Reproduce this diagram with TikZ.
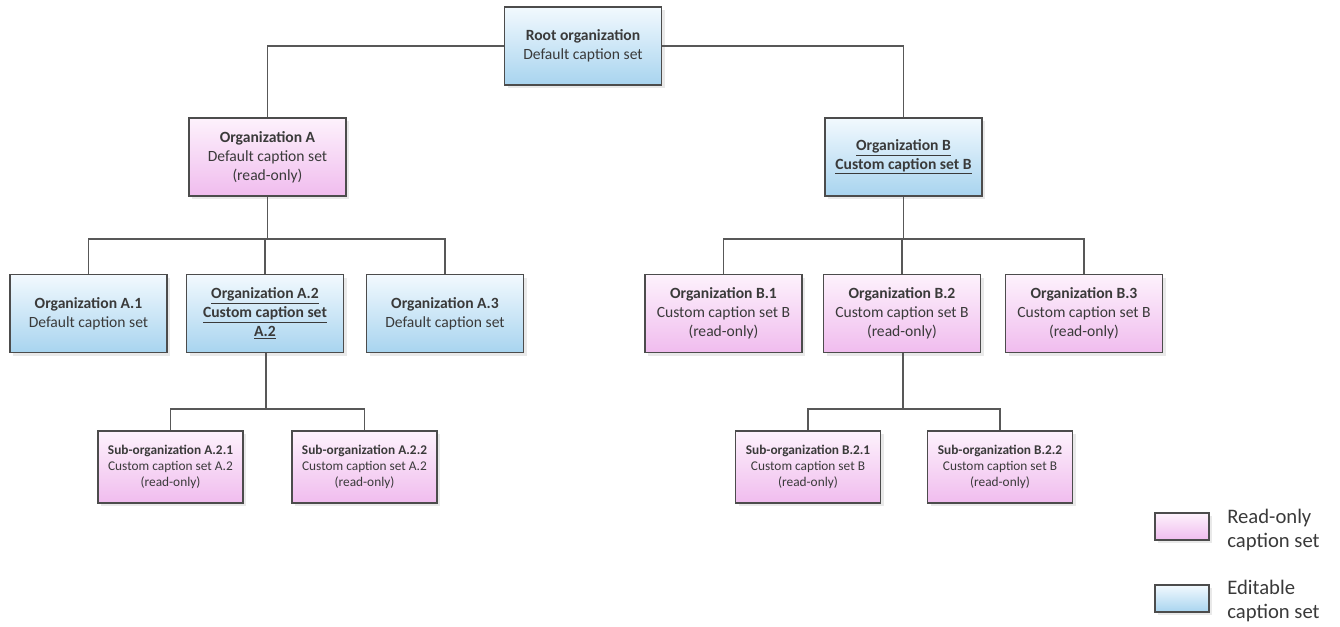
\documentclass[tikz,border=0pt]{standalone}
\usepackage{fontspec}
\setmainfont{Carlito}
\usetikzlibrary{shadows}
\definecolor{orgInk}{HTML}{3A3A3A}
\definecolor{orgLine}{HTML}{585858}
\definecolor{orgBorder}{HTML}{4C4C4C}
\definecolor{orgBlueTop}{HTML}{F2F9FE}
\definecolor{orgBlueBottom}{HTML}{A8D4EF}
\definecolor{orgPinkTop}{HTML}{FDF2FC}
\definecolor{orgPinkBottom}{HTML}{F0BCEE}
\definecolor{orgShadow}{HTML}{D4D4D4}
\tikzset{
  orgEditable/.style={top color=orgBlueTop,bottom color=orgBlueBottom,draw=orgBorder},
  orgReadOnly/.style={top color=orgPinkTop,bottom color=orgPinkBottom,draw=orgBorder},
  orgLink/.style={draw=orgLine,line width=1.4pt}
}

\begin{document}
\begin{tikzpicture}[x=0.75pt,y=-0.75pt,
  box/.style={line width=1.2pt,minimum width=117.75pt,minimum height=58.5pt,
    align=center,inner sep=2pt,text=orgInk,font=\fontsize{11.7}{14.25}\selectfont,
    drop shadow={shadow xshift=2.4pt,shadow yshift=-2.4pt,fill=orgShadow}},
  subbox/.style={box,minimum width=108.75pt,minimum height=54pt,
    font=\fontsize{10}{12}\selectfont},
  legendbox/.style={box,minimum width=40.5pt,minimum height=20.25pt},
  legendtext/.style={align=left,inner sep=0pt,text=orgInk,
    font=\fontsize{15.5}{18}\selectfont}]
\useasboundingbox (0,0) rectangle (1340,626);
\node[box,orgEditable] (root) at (583,46)
  {\textbf{Root organization}\\Default caption set};
\node[box,orgReadOnly] (orgA) at (267.5,157)
  {\textbf{Organization A}\\Default caption set\\(read-only)};
\node[box,orgEditable] (orgB) at (903.5,157)
  {\textbf{\underline{Organization B}}\\\textbf{\underline{Custom caption set B}}};
\node[box,orgEditable] (orgAone) at (88.5,313.5)
  {\textbf{Organization A.1}\\Default caption set};
\node[box,orgEditable] (orgAtwo) at (265,313.5)
  {\textbf{\underline{Organization A.2}}\\\textbf{\underline{Custom caption set}}\\\textbf{\underline{A.2}}};
\node[box,orgEditable] (orgAthree) at (445,313.5)
  {\textbf{Organization A.3}\\Default caption set};
\node[box,orgReadOnly] (orgBone) at (723.5,313.5)
  {\textbf{Organization B.1}\\Custom caption set B\\(read-only)};
\node[box,orgReadOnly] (orgBtwo) at (902,313.5)
  {\textbf{Organization B.2}\\Custom caption set B\\(read-only)};
\node[box,orgReadOnly] (orgBthree) at (1084,313.5)
  {\textbf{Organization B.3}\\Custom caption set B\\(read-only)};
\node[subbox,orgReadOnly] (subAtwoOne) at (170.5,467)
  {\textbf{Sub-organization A.2.1}\\Custom caption set A.2\\(read-only)};
\node[subbox,orgReadOnly] (subAtwoTwo) at (364.5,467)
  {\textbf{Sub-organization A.2.2}\\Custom caption set A.2\\(read-only)};
\node[subbox,orgReadOnly] (subBtwoOne) at (808,467)
  {\textbf{Sub-organization B.2.1}\\Custom caption set B\\(read-only)};
\node[subbox,orgReadOnly] (subBtwoTwo) at (1000,467)
  {\textbf{Sub-organization B.2.2}\\Custom caption set B\\(read-only)};
\coordinate (busA) at (267.5,239);
\coordinate (busB) at (903.5,239);
\coordinate (busAtwo) at (266,409);
\coordinate (busBtwo) at (903,409);
\draw[orgLink] (root.west) -| (orgA.north);
\draw[orgLink] (root.east) -| (orgB.north);
\draw[orgLink] (orgA.south) -- (busA);
\draw[orgLink] (orgAone.north) |- (busA) -| (orgAthree.north);
\draw[orgLink] (orgAtwo.north) -- (orgAtwo.north |- busA);
\draw[orgLink] (orgB.south) -- (busB);
\draw[orgLink] (orgBone.north) |- (busB) -| (orgBthree.north);
\draw[orgLink] (orgBtwo.north) -- (orgBtwo.north |- busB);
\draw[orgLink] (orgAtwo.south -| busAtwo) -- (busAtwo);
\draw[orgLink] (subAtwoOne.north) |- (busAtwo) -| (subAtwoTwo.north);
\draw[orgLink] (orgBtwo.south -| busBtwo) -- (busBtwo);
\draw[orgLink] (subBtwoOne.north) |- (busBtwo) -| (subBtwoTwo.north);
\node[legendbox,orgReadOnly] (keyRead) at (1182,526.5) {};
\node[legendtext,anchor=west] (keyReadText) at (1227,530) {Read-only\\caption set};
\node[legendbox,orgEditable] (keyEdit) at (1182,598.5) {};
\node[legendtext,anchor=west] (keyEditText) at (1227,601) {Editable\\caption set};
\end{tikzpicture}
\end{document}
